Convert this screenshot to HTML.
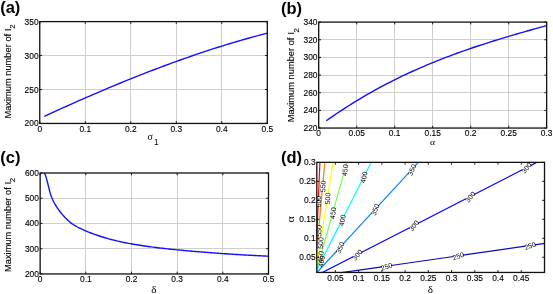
<!DOCTYPE html>
<html><head><meta charset="utf-8"><style>
html,body{margin:0;padding:0;background:#fff;width:553px;height:294px;overflow:hidden}
svg{display:block;will-change:transform}
</style></head><body>
<svg width="553" height="294" viewBox="0 0 553 294">
<style>
text{font-family:"Liberation Sans",sans-serif;fill:#000}
.tl{font-size:8.4px;stroke:#000;stroke-width:0.12px}
.g{stroke:#cecece;stroke-width:1}
.ax{fill:none;stroke:#111;stroke-width:1.3}
.t{fill:none;stroke:#000;stroke-width:0.9}
.pl{font-size:16.5px;font-weight:bold}
.yl{font-size:9.3px;stroke:#000;stroke-width:0.1px}
.cl{font-size:7px}
</style>
<rect width="553" height="294" fill="#fff"/>
<line x1="85.50" y1="21.60" x2="85.50" y2="123.45" class="g"/>
<line x1="130.50" y1="21.60" x2="130.50" y2="123.45" class="g"/>
<line x1="176.50" y1="21.60" x2="176.50" y2="123.45" class="g"/>
<line x1="221.50" y1="21.60" x2="221.50" y2="123.45" class="g"/>
<line x1="39.75" y1="89.50" x2="267.30" y2="89.50" class="g"/>
<line x1="39.75" y1="55.50" x2="267.30" y2="55.50" class="g"/>
<polyline points="44.30,116.31 48.08,114.58 51.86,112.85 55.64,111.13 59.42,109.42 63.20,107.71 66.98,106.02 70.76,104.33 74.54,102.65 78.32,100.98 82.10,99.32 85.88,97.67 89.66,96.03 93.44,94.40 97.22,92.78 101.00,91.17 104.78,89.56 108.55,87.97 112.33,86.39 116.11,84.82 119.89,83.26 123.67,81.72 127.45,80.18 131.23,78.66 135.01,77.14 138.79,75.64 142.57,74.16 146.35,72.68 150.13,71.22 153.91,69.77 157.69,68.33 161.47,66.90 165.25,65.49 169.03,64.10 172.81,62.71 176.59,61.34 180.37,59.99 184.15,58.65 187.93,57.32 191.71,56.01 195.49,54.71 199.27,53.43 203.05,52.16 206.83,50.91 210.61,49.67 214.38,48.45 218.16,47.25 221.94,46.06 225.72,44.89 229.50,43.74 233.28,42.60 237.06,41.48 240.84,40.37 244.62,39.29 248.40,38.22 252.18,37.17 255.96,36.14 259.74,35.12 263.52,34.13 267.30,33.15" fill="none" stroke="#1010ff" stroke-width="1.4" stroke-linejoin="round"/>
<path d="M39.75 123.45v-2.3M39.75 21.60v2.3M85.26 123.45v-2.3M85.26 21.60v2.3M130.77 123.45v-2.3M130.77 21.60v2.3M176.28 123.45v-2.3M176.28 21.60v2.3M221.79 123.45v-2.3M221.79 21.60v2.3M267.30 123.45v-2.3M267.30 21.60v2.3M39.75 123.45h2.3M267.30 123.45h-2.3M39.75 89.50h2.3M267.30 89.50h-2.3M39.75 55.55h2.3M267.30 55.55h-2.3M39.75 21.60h2.3M267.30 21.60h-2.3" class="t"/>
<rect x="39.75" y="21.60" width="227.55" height="101.85" class="ax"/>
<text transform="translate(39.75,131.85) scale(1,1.17)" class="tl" text-anchor="middle" >0</text>
<text transform="translate(85.26,131.85) scale(1,1.17)" class="tl" text-anchor="middle" >0.1</text>
<text transform="translate(130.77,131.85) scale(1,1.17)" class="tl" text-anchor="middle" >0.2</text>
<text transform="translate(176.28,131.85) scale(1,1.17)" class="tl" text-anchor="middle" >0.3</text>
<text transform="translate(221.79,131.85) scale(1,1.17)" class="tl" text-anchor="middle" >0.4</text>
<text transform="translate(267.30,131.85) scale(1,1.17)" class="tl" text-anchor="middle" >0.5</text>
<text transform="translate(38.55,126.45) scale(1,1.17)" class="tl" text-anchor="end" >200</text>
<text transform="translate(38.55,92.50) scale(1,1.17)" class="tl" text-anchor="end" >250</text>
<text transform="translate(38.55,58.55) scale(1,1.17)" class="tl" text-anchor="end" >300</text>
<text transform="translate(38.55,24.60) scale(1,1.17)" class="tl" text-anchor="end" >350</text>
<line x1="356.50" y1="22.10" x2="356.50" y2="128.05" class="g"/>
<line x1="394.50" y1="22.10" x2="394.50" y2="128.05" class="g"/>
<line x1="432.50" y1="22.10" x2="432.50" y2="128.05" class="g"/>
<line x1="470.50" y1="22.10" x2="470.50" y2="128.05" class="g"/>
<line x1="508.50" y1="22.10" x2="508.50" y2="128.05" class="g"/>
<line x1="318.70" y1="110.50" x2="546.65" y2="110.50" class="g"/>
<line x1="318.70" y1="92.50" x2="546.65" y2="92.50" class="g"/>
<line x1="318.70" y1="75.50" x2="546.65" y2="75.50" class="g"/>
<line x1="318.70" y1="57.50" x2="546.65" y2="57.50" class="g"/>
<line x1="318.70" y1="39.50" x2="546.65" y2="39.50" class="g"/>
<polyline points="326.30,120.79 330.03,118.16 333.77,115.57 337.50,113.04 341.24,110.55 344.97,108.11 348.71,105.72 352.44,103.37 356.18,101.07 359.91,98.82 363.65,96.61 367.38,94.44 371.12,92.31 374.85,90.23 378.59,88.18 382.32,86.18 386.05,84.22 389.79,82.29 393.52,80.40 397.26,78.55 400.99,76.73 404.73,74.95 408.46,73.21 412.20,71.49 415.93,69.82 419.67,68.17 423.40,66.55 427.14,64.97 430.87,63.41 434.61,61.88 438.34,60.38 442.08,58.91 445.81,57.47 449.55,56.05 453.28,54.65 457.02,53.28 460.75,51.93 464.48,50.61 468.22,49.30 471.95,48.02 475.69,46.76 479.42,45.52 483.16,44.29 486.89,43.09 490.63,41.90 494.36,40.73 498.10,39.57 501.83,38.43 505.57,37.30 509.30,36.18 513.04,35.08 516.77,33.99 520.51,32.90 524.24,31.83 527.98,30.77 531.71,29.72 535.45,28.67 539.18,27.63 542.92,26.60 546.65,25.57" fill="none" stroke="#1010ff" stroke-width="1.4" stroke-linejoin="round"/>
<path d="M318.70 128.05v-2.3M318.70 22.10v2.3M356.69 128.05v-2.3M356.69 22.10v2.3M394.68 128.05v-2.3M394.68 22.10v2.3M432.67 128.05v-2.3M432.67 22.10v2.3M470.67 128.05v-2.3M470.67 22.10v2.3M508.66 128.05v-2.3M508.66 22.10v2.3M546.65 128.05v-2.3M546.65 22.10v2.3M318.70 128.05h2.3M546.65 128.05h-2.3M318.70 110.39h2.3M546.65 110.39h-2.3M318.70 92.73h2.3M546.65 92.73h-2.3M318.70 75.08h2.3M546.65 75.08h-2.3M318.70 57.42h2.3M546.65 57.42h-2.3M318.70 39.76h2.3M546.65 39.76h-2.3M318.70 22.10h2.3M546.65 22.10h-2.3" class="t"/>
<rect x="318.70" y="22.10" width="227.95" height="105.95" class="ax"/>
<text transform="translate(318.70,135.95) scale(1,1.17)" class="tl" text-anchor="middle" >0</text>
<text transform="translate(356.69,135.95) scale(1,1.17)" class="tl" text-anchor="middle" >0.05</text>
<text transform="translate(394.68,135.95) scale(1,1.17)" class="tl" text-anchor="middle" >0.1</text>
<text transform="translate(432.67,135.95) scale(1,1.17)" class="tl" text-anchor="middle" >0.15</text>
<text transform="translate(470.67,135.95) scale(1,1.17)" class="tl" text-anchor="middle" >0.2</text>
<text transform="translate(508.66,135.95) scale(1,1.17)" class="tl" text-anchor="middle" >0.25</text>
<text transform="translate(546.65,135.95) scale(1,1.17)" class="tl" text-anchor="middle" >0.3</text>
<text transform="translate(317.50,131.05) scale(1,1.17)" class="tl" text-anchor="end" >220</text>
<text transform="translate(317.50,113.39) scale(1,1.17)" class="tl" text-anchor="end" >240</text>
<text transform="translate(317.50,95.73) scale(1,1.17)" class="tl" text-anchor="end" >260</text>
<text transform="translate(317.50,78.08) scale(1,1.17)" class="tl" text-anchor="end" >280</text>
<text transform="translate(317.50,60.42) scale(1,1.17)" class="tl" text-anchor="end" >300</text>
<text transform="translate(317.50,42.76) scale(1,1.17)" class="tl" text-anchor="end" >320</text>
<text transform="translate(317.50,25.10) scale(1,1.17)" class="tl" text-anchor="end" >340</text>
<line x1="85.50" y1="173.00" x2="85.50" y2="273.95" class="g"/>
<line x1="131.50" y1="173.00" x2="131.50" y2="273.95" class="g"/>
<line x1="177.50" y1="173.00" x2="177.50" y2="273.95" class="g"/>
<line x1="222.50" y1="173.00" x2="222.50" y2="273.95" class="g"/>
<line x1="40.15" y1="248.50" x2="268.50" y2="248.50" class="g"/>
<line x1="40.15" y1="223.50" x2="268.50" y2="223.50" class="g"/>
<line x1="40.15" y1="198.50" x2="268.50" y2="198.50" class="g"/>
<polyline points="44.50,173.00 45.12,174.51 45.67,176.04 46.18,177.59 46.65,179.16 47.09,180.74 47.50,182.32 47.89,183.92 48.27,185.51 48.66,187.11 49.04,188.70 49.45,190.29 49.87,191.87 50.32,193.44 50.81,195.00 51.35,196.54 51.94,198.06 52.59,199.55 53.30,201.03 54.05,202.48 54.85,203.91 55.69,205.31 56.56,206.70 57.46,208.06 58.39,209.40 59.35,210.73 60.34,212.03 61.35,213.31 62.40,214.58 63.47,215.82 64.58,217.04 65.71,218.22 66.88,219.37 68.08,220.49 69.32,221.56 70.59,222.59 71.89,223.57 73.23,224.49 74.60,225.37 76.01,226.21 77.43,227.00 78.88,227.76 80.35,228.49 81.84,229.19 83.34,229.87 84.84,230.52 86.36,231.16 87.87,231.78 89.40,232.40 90.92,232.99 92.45,233.57 93.99,234.14 95.52,234.70 97.07,235.24 98.61,235.76 100.16,236.28 101.72,236.78 103.27,237.26 104.84,237.74 106.40,238.20 107.97,238.64 109.55,239.08 111.12,239.50 112.70,239.91 114.29,240.30 115.88,240.69 117.47,241.06 119.06,241.42 120.66,241.77 122.25,242.11 123.85,242.44 125.46,242.77 127.06,243.08 128.67,243.38 130.28,243.68 131.89,243.97 133.50,244.25 135.11,244.53 136.72,244.79 138.33,245.05 139.95,245.31 141.56,245.56 143.18,245.80 144.79,246.04 146.41,246.27 148.03,246.49 149.65,246.71 151.27,246.93 152.89,247.14 154.51,247.34 156.13,247.55 157.75,247.74 159.37,247.93 161.00,248.12 162.62,248.31 164.24,248.49 165.87,248.67 167.49,248.84 169.12,249.01 170.74,249.18 172.37,249.35 174.00,249.51 175.62,249.67 177.25,249.83 178.87,249.99 180.50,250.15 182.13,250.30 183.75,250.45 185.38,250.61 187.01,250.75 188.64,250.90 190.26,251.05 191.89,251.19 193.52,251.33 195.15,251.47 196.77,251.61 198.40,251.75 200.03,251.88 201.66,252.02 203.29,252.15 204.91,252.28 206.54,252.41 208.17,252.53 209.80,252.66 211.43,252.78 213.06,252.90 214.69,253.02 216.32,253.14 217.94,253.26 219.57,253.38 221.20,253.49 222.83,253.60 224.46,253.71 226.09,253.82 227.72,253.93 229.35,254.04 230.98,254.14 232.61,254.25 234.24,254.35 235.87,254.45 237.50,254.55 239.13,254.65 240.77,254.75 242.40,254.84 244.03,254.94 245.66,255.03 247.29,255.12 248.92,255.21 250.55,255.30 252.18,255.39 253.81,255.48 255.45,255.56 257.08,255.64 258.71,255.73 260.34,255.81 261.97,255.89 263.60,255.97 265.24,256.05 266.87,256.12 268.50,256.20" fill="none" stroke="#1010ff" stroke-width="1.4" stroke-linejoin="round"/>
<path d="M40.15 273.95v-2.3M40.15 173.00v2.3M85.82 273.95v-2.3M85.82 173.00v2.3M131.49 273.95v-2.3M131.49 173.00v2.3M177.16 273.95v-2.3M177.16 173.00v2.3M222.83 273.95v-2.3M222.83 173.00v2.3M268.50 273.95v-2.3M268.50 173.00v2.3M40.15 273.95h2.3M268.50 273.95h-2.3M40.15 248.71h2.3M268.50 248.71h-2.3M40.15 223.47h2.3M268.50 223.47h-2.3M40.15 198.24h2.3M268.50 198.24h-2.3M40.15 173.00h2.3M268.50 173.00h-2.3" class="t"/>
<rect x="40.15" y="173.00" width="228.35" height="100.95" class="ax"/>
<text transform="translate(40.15,281.75) scale(1,1.17)" class="tl" text-anchor="middle" >0</text>
<text transform="translate(85.82,281.75) scale(1,1.17)" class="tl" text-anchor="middle" >0.1</text>
<text transform="translate(131.49,281.75) scale(1,1.17)" class="tl" text-anchor="middle" >0.2</text>
<text transform="translate(177.16,281.75) scale(1,1.17)" class="tl" text-anchor="middle" >0.3</text>
<text transform="translate(222.83,281.75) scale(1,1.17)" class="tl" text-anchor="middle" >0.4</text>
<text transform="translate(268.50,281.75) scale(1,1.17)" class="tl" text-anchor="middle" >0.5</text>
<text transform="translate(38.95,276.95) scale(1,1.17)" class="tl" text-anchor="end" >200</text>
<text transform="translate(38.95,251.71) scale(1,1.17)" class="tl" text-anchor="end" >300</text>
<text transform="translate(38.95,226.47) scale(1,1.17)" class="tl" text-anchor="end" >400</text>
<text transform="translate(38.95,201.24) scale(1,1.17)" class="tl" text-anchor="end" >500</text>
<text transform="translate(38.95,176.00) scale(1,1.17)" class="tl" text-anchor="end" >600</text>
<clipPath id="cd"><rect x="316.8" y="162.35" width="227.7" height="110.1"/></clipPath>
<g clip-path="url(#cd)" stroke-width="1.2" fill="none">
<line x1="314.46" y1="292.18" x2="318.07" y2="206.19" stroke="#ff0000"/>
<line x1="318.45" y1="196.98" x2="321.57" y2="122.44" stroke="#ff0000"/>
<line x1="312.99" y1="292.12" x2="318.14" y2="235.52" stroke="#ff8000"/>
<line x1="318.98" y1="226.33" x2="322.21" y2="190.84" stroke="#ff8000"/>
<line x1="323.05" y1="181.65" x2="328.43" y2="122.56" stroke="#ff8000"/>
<line x1="312.70" y1="291.96" x2="319.65" y2="247.61" stroke="#ffff00"/>
<line x1="321.08" y1="238.50" x2="326.62" y2="203.12" stroke="#ffff00"/>
<line x1="328.05" y1="194.01" x2="339.19" y2="122.88" stroke="#ffff00"/>
<line x1="310.58" y1="291.45" x2="319.05" y2="261.36" stroke="#78ff50"/>
<line x1="321.55" y1="252.48" x2="331.39" y2="217.51" stroke="#78ff50"/>
<line x1="333.89" y1="208.63" x2="343.46" y2="174.63" stroke="#78ff50"/>
<line x1="345.96" y1="165.75" x2="357.74" y2="123.90" stroke="#78ff50"/>
<line x1="306.58" y1="290.05" x2="319.03" y2="265.41" stroke="#00ffff"/>
<line x1="323.19" y1="257.18" x2="339.77" y2="224.39" stroke="#00ffff"/>
<line x1="343.93" y1="216.16" x2="361.50" y2="181.40" stroke="#00ffff"/>
<line x1="365.66" y1="173.17" x2="389.14" y2="126.70" stroke="#00ffff"/>
<line x1="303.65" y1="286.91" x2="336.73" y2="250.99" stroke="#0080ff"/>
<line x1="342.97" y1="244.21" x2="371.83" y2="212.87" stroke="#0080ff"/>
<line x1="378.08" y1="206.09" x2="408.43" y2="173.12" stroke="#0080ff"/>
<line x1="414.68" y1="166.34" x2="445.39" y2="132.97" stroke="#0080ff"/>
<line x1="304.61" y1="281.59" x2="353.08" y2="256.69" stroke="#0000ff"/>
<line x1="361.29" y1="252.48" x2="409.58" y2="227.68" stroke="#0000ff"/>
<line x1="417.79" y1="223.47" x2="465.90" y2="198.76" stroke="#0000ff"/>
<line x1="474.11" y1="194.54" x2="522.24" y2="169.83" stroke="#0000ff"/>
<line x1="530.45" y1="165.61" x2="572.38" y2="144.08" stroke="#0000ff"/>
<line x1="322.90" y1="275.30" x2="381.93" y2="266.80" stroke="#0a0ab4"/>
<line x1="391.06" y1="265.49" x2="453.66" y2="256.47" stroke="#0a0ab4"/>
<line x1="462.79" y1="255.15" x2="525.46" y2="246.13" stroke="#0a0ab4"/>
<line x1="534.59" y1="244.81" x2="583.99" y2="237.70" stroke="#0a0ab4"/>
</g>
<text transform="translate(318.26,201.59) rotate(-89.0)" class="cl" text-anchor="middle" dy="2.8">600</text>
<text transform="translate(322.63,186.25) rotate(-87.8)" class="cl" text-anchor="middle" dy="2.8">550</text>
<text transform="translate(318.56,230.92) rotate(-87.8)" class="cl" text-anchor="middle" dy="2.8">550</text>
<text transform="translate(327.33,198.56) rotate(-86.2)" class="cl" text-anchor="middle" dy="2.8">500</text>
<text transform="translate(320.37,243.06) rotate(-86.2)" class="cl" text-anchor="middle" dy="2.8">500</text>
<text transform="translate(344.71,170.19) rotate(-83.2)" class="cl" text-anchor="middle" dy="2.8">450</text>
<text transform="translate(332.64,213.07) rotate(-83.2)" class="cl" text-anchor="middle" dy="2.8">450</text>
<text transform="translate(320.30,256.92) rotate(-83.2)" class="cl" text-anchor="middle" dy="2.8">450</text>
<text transform="translate(363.58,177.28) rotate(-77.9)" class="cl" text-anchor="middle" dy="2.8">400</text>
<text transform="translate(341.85,220.27) rotate(-77.9)" class="cl" text-anchor="middle" dy="2.8">400</text>
<text transform="translate(321.11,261.30) rotate(-77.9)" class="cl" text-anchor="middle" dy="2.8">400</text>
<text transform="translate(411.55,169.73) rotate(-68.6)" class="cl" text-anchor="middle" dy="2.8">350</text>
<text transform="translate(374.95,209.48) rotate(-68.6)" class="cl" text-anchor="middle" dy="2.8">350</text>
<text transform="translate(339.85,247.60) rotate(-68.6)" class="cl" text-anchor="middle" dy="2.8">350</text>
<text transform="translate(526.34,167.72) rotate(-50.4)" class="cl" text-anchor="middle" dy="2.8">300</text>
<text transform="translate(470.01,196.65) rotate(-50.4)" class="cl" text-anchor="middle" dy="2.8">300</text>
<text transform="translate(413.69,225.57) rotate(-50.4)" class="cl" text-anchor="middle" dy="2.8">300</text>
<text transform="translate(357.18,254.59) rotate(-50.4)" class="cl" text-anchor="middle" dy="2.8">300</text>
<text transform="translate(530.02,245.47) rotate(-18.7)" class="cl" text-anchor="middle" dy="2.8">250</text>
<text transform="translate(458.23,255.81) rotate(-18.7)" class="cl" text-anchor="middle" dy="2.8">250</text>
<text transform="translate(386.49,266.14) rotate(-18.7)" class="cl" text-anchor="middle" dy="2.8">250</text>
<path d="M335.39 272.45v-2.3M335.39 162.35v2.3M358.62 272.45v-2.3M358.62 162.35v2.3M381.86 272.45v-2.3M381.86 162.35v2.3M405.09 272.45v-2.3M405.09 162.35v2.3M428.33 272.45v-2.3M428.33 162.35v2.3M451.56 272.45v-2.3M451.56 162.35v2.3M474.80 272.45v-2.3M474.80 162.35v2.3M498.03 272.45v-2.3M498.03 162.35v2.3M521.27 272.45v-2.3M521.27 162.35v2.3M316.80 257.26h2.3M544.50 257.26h-2.3M316.80 238.28h2.3M544.50 238.28h-2.3M316.80 219.30h2.3M544.50 219.30h-2.3M316.80 200.32h2.3M544.50 200.32h-2.3M316.80 181.33h2.3M544.50 181.33h-2.3M316.80 162.35h2.3M544.50 162.35h-2.3" class="t"/>
<rect x="316.80" y="162.35" width="227.70" height="110.10" class="ax"/>
<text transform="translate(335.39,280.95) scale(1,1.17)" class="tl" text-anchor="middle" >0.05</text>
<text transform="translate(358.62,280.95) scale(1,1.17)" class="tl" text-anchor="middle" >0.1</text>
<text transform="translate(381.86,280.95) scale(1,1.17)" class="tl" text-anchor="middle" >0.15</text>
<text transform="translate(405.09,280.95) scale(1,1.17)" class="tl" text-anchor="middle" >0.2</text>
<text transform="translate(428.33,280.95) scale(1,1.17)" class="tl" text-anchor="middle" >0.25</text>
<text transform="translate(451.56,280.95) scale(1,1.17)" class="tl" text-anchor="middle" >0.3</text>
<text transform="translate(474.80,280.95) scale(1,1.17)" class="tl" text-anchor="middle" >0.35</text>
<text transform="translate(498.03,280.95) scale(1,1.17)" class="tl" text-anchor="middle" >0.4</text>
<text transform="translate(521.27,280.95) scale(1,1.17)" class="tl" text-anchor="middle" >0.45</text>
<text transform="translate(315.60,260.26) scale(1,1.17)" class="tl" text-anchor="end" >0.05</text>
<text transform="translate(315.60,241.28) scale(1,1.17)" class="tl" text-anchor="end" >0.1</text>
<text transform="translate(315.60,222.30) scale(1,1.17)" class="tl" text-anchor="end" >0.15</text>
<text transform="translate(315.60,203.32) scale(1,1.17)" class="tl" text-anchor="end" >0.2</text>
<text transform="translate(315.60,184.33) scale(1,1.17)" class="tl" text-anchor="end" >0.25</text>
<text transform="translate(315.60,165.35) scale(1,1.17)" class="tl" text-anchor="end" >0.3</text>
<text x="0.2" y="13.0" class="pl">(a)</text>
<text x="281.0" y="13.5" class="pl">(b)</text>
<text x="0.3" y="163.0" class="pl">(c)</text>
<text x="281.0" y="163.0" class="pl">(d)</text>
<text transform="translate(10.9,118.6) rotate(-90) scale(1.0,1)" class="yl">Maximum number of <tspan dx="0.4">I</tspan><tspan dx="-0.5" dy="4.4" font-size="7.8">2</tspan></text>
<text transform="translate(294.4,122.3) rotate(-90) scale(1.0,1)" class="yl">Maximum number of <tspan dx="0.4">I</tspan><tspan dx="-0.5" dy="4.4" font-size="7.8">2</tspan></text>
<text transform="translate(10.7,272.0) rotate(-90) scale(1.0,1)" class="yl">Maximum number of <tspan dx="0.4">I</tspan><tspan dx="-0.5" dy="4.4" font-size="7.8">2</tspan></text>
<text x="147.5" y="140.3" font-size="10" style="font-family:'Liberation Serif',serif">σ</text>
<text x="154.1" y="145.1" font-size="8.2" transform="">1</text>
<text transform="translate(432.5,144.7) scale(1.2,1)" font-size="8" text-anchor="middle" style="font-family:'Liberation Serif',serif">α</text>
<text x="153.8" y="293.3" font-size="11" text-anchor="middle" style="font-family:'Liberation Serif',serif">δ</text>
<text x="430.4" y="293.3" font-size="11" text-anchor="middle" style="font-family:'Liberation Serif',serif">δ</text>
<text transform="translate(294.1,219.4) rotate(-90) scale(1.2,1)" font-size="10" text-anchor="middle" style="font-family:'Liberation Serif',serif">α</text>
</svg>
</body></html>
